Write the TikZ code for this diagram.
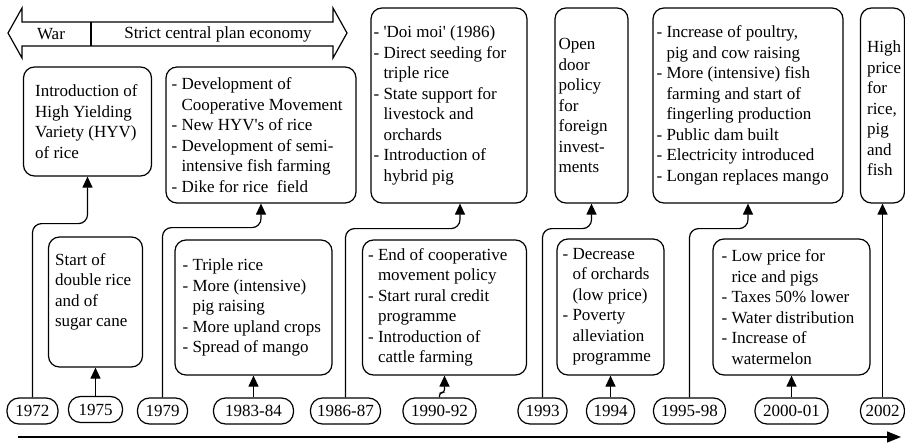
\documentclass[tikz,border=0pt]{standalone}
\usepackage{fontspec}
\setmainfont{Liberation Serif}
\usetikzlibrary{arrows.meta}
\newcommand\bodyfont{\fontsize{17}{20.5}\selectfont}
\newcommand\ind{\hphantom{- }}
\newcommand\sq{\textquotesingle}
\begin{document}
\begin{tikzpicture}[x=1pt,y=-1pt,
  frame/.style={draw, line width=1.2pt, rounded corners=11pt, inner sep=0pt},
  txt/.style={font=\bodyfont, align=left, inner sep=0pt, anchor=west},
  yr/.style={draw, line width=1.2pt, rounded corners=12pt, minimum height=26pt, inner sep=0pt, font=\bodyfont},
  conn/.style={line width=1.2pt, rounded corners=9pt, -{Triangle[length=11pt,width=10pt]}},
  ln/.style={line width=1.2pt}]
\useasboundingbox (0,0) rectangle (905,444);
\clip (0,0) rectangle (905,444);

% ---- period arrow
\draw[ln, line join=miter] (8,33) -- (22,8) -- (22,22) -- (333,22) -- (333,8) -- (347,33) -- (333,58) -- (333,46) -- (22,46) -- (22,58) -- cycle;
\draw[ln] (91,22) -- (91,46);
\node[txt, anchor=center] (war) at (51,34) {War};
\node[txt, anchor=center] (plan) at (218,34) {Strict central plan economy};

% ---- top boxes
\node[frame, minimum width=128pt, minimum height=109pt] (b1) at (87.5,121.5) {};
\node[txt] (b1t) at ([xshift=12pt]b1.west) {Introduction of\\High Yielding\\Variety (HYV)\\of rice};

\node[frame, minimum width=190pt, minimum height=136pt] (b2) at (261,135) {};
\node[txt] (b2t) at ([xshift=6pt]b2.west) {- Development of\\\ind Cooperative Movement\\- New HYV\sq s of rice\\- Development of semi-\\\ind intensive fish farming\\- Dike for rice\ \ field};

\node[frame, minimum width=156pt, minimum height=195pt] (b3) at (449,105.5) {};
\node[txt] (b3t) at ([xshift=3pt]b3.west) {- \sq Doi moi\sq\ (1986)\\- Direct seeding for\\\ind triple rice\\- State support for\\\ind livestock and\\\ind orchards\\- Introduction of\\\ind hybrid pig};

\node[frame, minimum width=73pt, minimum height=195pt] (b4) at (591.5,105.5) {};
\node[txt] (b4t) at ([xshift=4pt]b4.west) {Open\\door\\policy\\for\\foreign\\invest-\\ments};

\node[frame, minimum width=190pt, minimum height=195pt] (b5) at (748,105.5) {};
\node[txt] (b5t) at ([xshift=4pt]b5.west) {- Increase of poultry,\\\ind pig and cow raising\\- More (intensive) fish\\\ind farming and start of\\\ind fingerling production\\- Public dam built\\- Electricity introduced\\- Longan replaces mango};

\node[frame, minimum width=44pt, minimum height=195pt] (b6) at (882.5,105.5) {};
\node[txt] (b6t) at ([xshift=7pt,yshift=-3pt]b6.west) {High\\price\\for\\rice,\\pig\\and\\fish};

% ---- bottom boxes
\node[frame, minimum width=94pt, minimum height=130pt] (a1) at (95.5,302) {};
\node[txt] (a1t) at ([xshift=7pt,yshift=10pt]a1.west) {Start of\\double rice\\and of\\sugar cane};

\node[frame, minimum width=157pt, minimum height=135pt] (a2) at (253.5,307.5) {};
\node[txt] (a2t) at ([xshift=8pt]a2.west) {- Triple rice\\- More (intensive)\\\ind pig raising\\- More upland crops\\- Spread of mango};

\node[frame, minimum width=164pt, minimum height=135pt] (a3) at (444.5,307.5) {};
\node[txt] (a3t) at ([xshift=6pt]a3.west) {- End of cooperative\\\ind movement policy\\- Start rural credit\\\ind programme\\- Introduction of\\\ind cattle farming};

\node[frame, minimum width=107pt, minimum height=136pt] (a4) at (610.5,307) {};
\node[txt] (a4t) at ([xshift=6pt]a4.west) {- Decrease\\\ind of orchards\\\ind (low price)\\- Poverty\\\ind alleviation\\\ind programme};

\node[frame, minimum width=157pt, minimum height=136pt] (a5) at (791.5,307) {};
\node[txt] (a5t) at ([xshift=9pt]a5.west) {- Low price for\\\ind rice and pigs\\- Taxes 50\% lower\\- Water distribution\\- Increase of\\\ind watermelon};

% ---- years
\node[yr, minimum width=51pt] (y72) at (32.5,411) {1972};
\node[yr, minimum width=54pt] (y75) at (95.5,409.5) {1975};
\node[yr, minimum width=50pt] (y79) at (162.5,411) {1979};
\node[yr, minimum width=80pt] (y83) at (253.5,411) {1983-84};
\node[yr, minimum width=70pt] (y86) at (345.5,411) {1986-87};
\node[yr, minimum width=73pt] (y90) at (439.5,411) {1990-92};
\node[yr, minimum width=49pt] (y93) at (542.5,411) {1993};
\node[yr, minimum width=48pt] (y94) at (610.5,411) {1994};
\node[yr, minimum width=72pt] (y95) at (689.5,411) {1995-98};
\node[yr, minimum width=73pt] (y00) at (791.5,411) {2000-01};
\node[yr, minimum width=44pt] (y02) at (882.5,411) {2002};

% ---- connectors
\draw[conn] (y72.north) |- ([yshift=-47pt]b1.south) -- (b1.south);
\draw[conn] (y75.north) -- (a1.south);
\draw[conn] (y79.north) |- ([yshift=-24pt]b2.south) -- (b2.south);
\draw[conn] (y83.north) -- (a2.south);
\draw[conn] (y86.north) |- ([xshift=11pt,yshift=-25pt]b3.south) -- ([xshift=11pt]b3.south);
\draw[conn, rounded corners=3pt] (y90.north) |- ([yshift=-17pt]a3.south) -- (a3.south);
\draw[conn] (y93.north) |- ([yshift=-25pt]b4.south) -- (b4.south);
\draw[conn] (y94.north) -- (a4.south);
\draw[conn] (y95.north) |- ([yshift=-25pt]b5.south) -- (b5.south);
\draw[conn] (y00.north) -- (a5.south);
\draw[conn] (y02.north) -- (b6.south);

% ---- time axis
\coordinate (ax0) at (18,437);
\coordinate (ax1) at (901,437);
\draw[ln, -{Triangle[length=14pt,width=11pt]}] (ax0) -- (ax1);
\end{tikzpicture}
\end{document}
